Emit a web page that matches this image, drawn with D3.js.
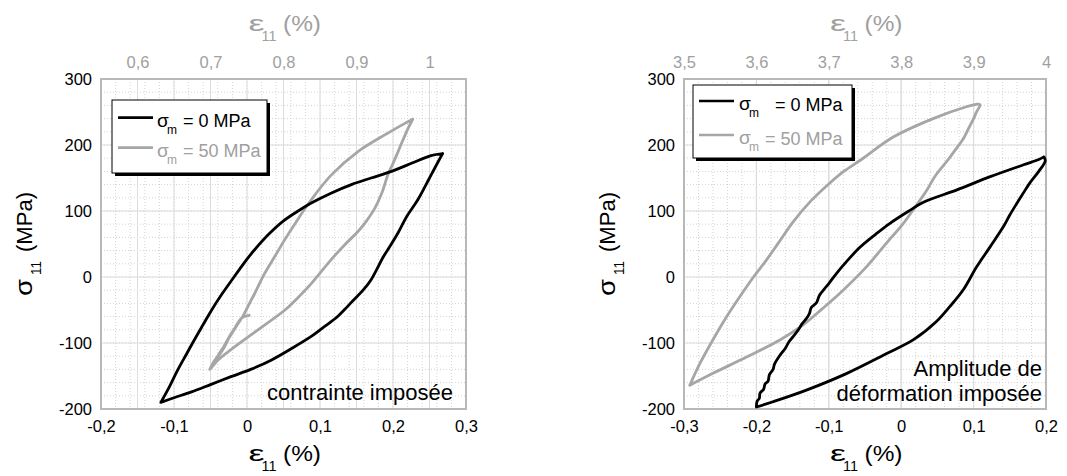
<!DOCTYPE html>
<html><head><meta charset="utf-8">
<script src="https://cdn.jsdelivr.net/npm/d3@7"></script>
<style>
body{margin:0;background:#fff;}
svg{display:block;font-family:"Liberation Sans",Arial,sans-serif;}
</style></head><body>
<svg id="chart" width="1067" height="476"></svg>
<script>
// ---------- data ----------
const yTicks = [-200, -100, 0, 100, 200, 300];
const yDomain = [-200, 300];
const leftXTicks = [-0.2, -0.1, 0, 0.1, 0.2, 0.3];
const leftXDomain = [-0.2, 0.3];
const leftTopTicks = [0.6, 0.7, 0.8, 0.9, 1.0];
const leftTopDomain = [0.55, 1.05];
const rightXTicks = [-0.3, -0.2, -0.1, 0, 0.1, 0.2];
const rightXDomain = [-0.3, 0.2];
const rightTopTicks = [3.5, 3.6, 3.7, 3.8, 3.9, 4.0];
const rightTopDomain = [3.5, 4.0];
const seriesLabels = ["= 0 MPa", "= 50 MPa"];
const leftNote = ["contrainte imposée"];
const rightNote = ["Amplitude de", "déformation imposée"];

// left panel: sigma_m = 0 MPa  [eps (%), sigma (MPa)]
const leftSig0 = [[-0.118,-190],[-0.108,-170],[-0.095,-141],[-0.083,-117],[-0.072,-95],[-0.06,-72],[-0.049,-51],[-0.035,-27],[-0.021,-5],[-0.01,12],[0.0,27],[0.011,42],[0.03,65],[0.05,85],[0.07,100],[0.088,112],[0.115,127],[0.143,140],[0.17,150],[0.198,160],[0.227,173],[0.252,184],[0.268,187],[0.262,175],[0.25,150],[0.234,117],[0.219,92],[0.207,67],[0.195,45],[0.187,31],[0.17,-4],[0.159,-20],[0.145,-36],[0.134,-49],[0.123,-61],[0.105,-76],[0.088,-90],[0.06,-109],[0.033,-126],[0.005,-140],[-0.022,-151],[-0.05,-163],[-0.076,-174],[-0.1,-183],[-0.118,-190]];
// left panel: sigma_m = 50 MPa
const leftSig50 = [[-0.051,-140],[-0.044,-126],[-0.038,-118],[-0.031,-106],[-0.025,-93],[-0.02,-84],[-0.012,-70],[-0.006,-60],[0.002,-43],[0.0105,-25],[0.024,5],[0.038,31],[0.052,57],[0.07,88],[0.088,117],[0.115,154],[0.152,190],[0.193,218],[0.215,232],[0.227,239],[0.221,226],[0.213,206],[0.207,190],[0.2,172],[0.193,155],[0.185,128],[0.175,104],[0.163,84],[0.152,69],[0.134,49],[0.115,26],[0.088,-10],[0.07,-31],[0.052,-50],[0.015,-80],[-0.022,-110],[-0.04,-126],[-0.051,-140],[-0.046,-130],[-0.038,-116],[-0.031,-104],[-0.024,-90],[-0.017,-78],[-0.011,-67],[-0.006,-61],[0.003,-58]];
// right panel: sigma_m = 0 MPa
const rightSig0 = [[-0.2,-197],[-0.199,-188],[-0.196,-184],[-0.195,-176],[-0.19,-170],[-0.188,-162],[-0.184,-158],[-0.182,-148],[-0.177,-140],[-0.175,-132],[-0.167,-118],[-0.16,-108],[-0.155,-98],[-0.149,-90],[-0.142,-80],[-0.137,-71],[-0.131,-63],[-0.127,-56],[-0.124,-46],[-0.117,-39],[-0.113,-28],[-0.106,-18],[-0.1,-10],[-0.089,6],[-0.075,24],[-0.057,45],[-0.035,65],[-0.016,81],[0.012,101],[0.03,113],[0.077,132],[0.123,152],[0.169,170],[0.19,178],[0.197,182],[0.199,176],[0.19,160],[0.178,143],[0.168,126],[0.16,112],[0.15,94],[0.141,76],[0.123,46],[0.104,15],[0.086,-19],[0.067,-45],[0.049,-67],[0.017,-95],[-0.02,-116],[-0.075,-146],[-0.13,-171],[-0.177,-189],[-0.2,-197]];
// right panel: sigma_m = 50 MPa
const rightSig50 = [[-0.292,-164],[-0.278,-131],[-0.26,-95],[-0.241,-60],[-0.223,-30],[-0.204,0],[-0.186,26],[-0.17,51],[-0.149,84],[-0.125,115],[-0.1,141],[-0.078,161],[-0.055,178],[-0.011,212],[0.044,240],[0.09,258],[0.105,262],[0.109,261],[0.104,250],[0.1,240],[0.093,225],[0.086,210],[0.075,193],[0.065,178],[0.047,153],[0.034,129],[0.018,104],[0.0,77],[-0.016,57],[-0.05,13],[-0.085,-25],[-0.11,-49],[-0.135,-72],[-0.167,-95],[-0.213,-121],[-0.26,-146],[-0.292,-164]];

// ---------- styling ----------
const BLACK = "#000000", GRAY = "#a6a6a6", GRAYTXT = "#a0a0a0";
const locale = d3.formatLocale({decimal: ",", thousands: " ", grouping: [3], currency: ["", ""], minus: "-"});
const fmt0 = locale.format("~f");
const fmt = v => fmt0(+v.toFixed(6));

const svg = d3.select("#chart");

function branches(data) {
  const a = d3.maxIndex(data, d => d[1]);
  const b = d3.minIndex(data, d => d[1]);
  const cuts = [0, ...[a, b].filter(i => i > 0 && i < data.length - 1).sort((p, q) => p - q), data.length - 1];
  const segs = [];
  for (let i = 0; i < cuts.length - 1; i++) segs.push(data.slice(cuts[i], cuts[i + 1] + 1));
  return segs;
}

function drawPanel(cfg) {
  const g = svg.append("g");
  const x = d3.scaleLinear().domain(cfg.xDomain).range([cfg.x0, cfg.x1]);
  const xt = d3.scaleLinear().domain(cfg.topDomain).range([cfg.x0, cfg.x1]);
  const y = d3.scaleLinear().domain(yDomain).range([cfg.y1, cfg.y0]);

  // minor grid (dotted)
  const minorX = d3.range(Math.round(cfg.xDomain[0] * 50), Math.round(cfg.xDomain[1] * 50) + 1).map(i => i / 50);
  const minorY = d3.range(yDomain[0], yDomain[1] + 1, 20);
  g.append("g").selectAll("line").data(minorX).join("line")
    .attr("x1", d => x(d)).attr("x2", d => x(d)).attr("y1", cfg.y0).attr("y2", cfg.y1)
    .attr("stroke", "#d4d4d4").attr("stroke-width", 1).attr("stroke-dasharray", "1,2");
  g.append("g").selectAll("line").data(minorY).join("line")
    .attr("y1", d => y(d)).attr("y2", d => y(d)).attr("x1", cfg.x0).attr("x2", cfg.x1)
    .attr("stroke", "#d4d4d4").attr("stroke-width", 1).attr("stroke-dasharray", "1,2");
  // major grid (solid)
  g.append("g").selectAll("line").data(cfg.xTicks).join("line")
    .attr("x1", d => x(d)).attr("x2", d => x(d)).attr("y1", cfg.y0).attr("y2", cfg.y1)
    .attr("stroke", "#dcdcdc").attr("stroke-width", 1);
  g.append("g").selectAll("line").data(cfg.topTicks).join("line")
    .attr("x1", d => xt(d)).attr("x2", d => xt(d)).attr("y1", cfg.y0).attr("y2", cfg.y1)
    .attr("stroke", "#dcdcdc").attr("stroke-width", 1);
  g.append("g").selectAll("line").data(yTicks).join("line")
    .attr("y1", d => y(d)).attr("y2", d => y(d)).attr("x1", cfg.x0).attr("x2", cfg.x1)
    .attr("stroke", "#dcdcdc").attr("stroke-width", 1);

  // plot border
  g.append("rect").attr("x", cfg.x0).attr("y", cfg.y0)
    .attr("width", cfg.x1 - cfg.x0).attr("height", cfg.y1 - cfg.y0)
    .attr("fill", "none").attr("stroke", "#b8b8b8").attr("stroke-width", 2);

  // series
  const line = d3.line().x(d => x(d[0])).y(d => y(d[1])).curve(d3.curveCatmullRom.alpha(0.5));
  [[cfg.s50, GRAY], [cfg.s0, BLACK]].forEach(([data, col]) => {
    const d = branches(data).map(s => line(s)).join("");
    g.append("path").attr("d", d).attr("fill", "none")
      .attr("stroke", col).attr("stroke-width", 2.8)
      .attr("stroke-linejoin", "round").attr("stroke-linecap", "round");
  });

  // axes
  const styleAxis = (sel, color, size) => {
    sel.select(".domain").remove();
    sel.selectAll("text").attr("fill", color).attr("font-size", size)
      .attr("font-family", '"Liberation Sans", Arial, sans-serif');
  };
  g.append("g").attr("transform", `translate(${cfg.x0},0)`)
    .call(d3.axisLeft(y).tickValues(yTicks).tickSize(0).tickPadding(9).tickFormat(fmt))
    .call(s => styleAxis(s, BLACK, 16.5));
  g.append("g").attr("transform", `translate(0,${cfg.y1})`)
    .call(d3.axisBottom(x).tickValues(cfg.xTicks).tickSize(0).tickPadding(11).tickFormat(fmt))
    .call(s => styleAxis(s, BLACK, 16.5));
  g.append("g").attr("transform", `translate(0,${cfg.y0})`)
    .call(d3.axisTop(xt).tickValues(cfg.topTicks).tickSize(0).tickPadding(11).tickFormat(fmt))
    .call(s => styleAxis(s, GRAYTXT, 16.5));

  // axis titles (epsilon)
  const cx = (cfg.x0 + cfg.x1) / 2;
  function epsTitle(baseY, color) {
    const t = g.append("g").attr("fill", color);
    t.append("text").attr("x", cx - 35).attr("y", baseY).attr("font-size", 22)
      .attr("textLength", 16).attr("lengthAdjust", "spacingAndGlyphs").text("ε");
    t.append("text").attr("x", cx - 22).attr("y", baseY + 10).attr("font-size", 15)
      .attr("textLength", 15).attr("lengthAdjust", "spacingAndGlyphs").text("11");
    t.append("text").attr("x", cx - 0.5).attr("y", baseY).attr("font-size", 22)
      .attr("textLength", 38).attr("lengthAdjust", "spacingAndGlyphs").text("(%)");
  }
  epsTitle(461, BLACK);
  epsTitle(31, GRAYTXT);

  // y title (sigma)
  const cy = (cfg.y0 + cfg.y1) / 2;
  const yt = g.append("g").attr("transform", `translate(${cfg.x0 - 69},${cy}) rotate(-90)`).attr("fill", BLACK);
  yt.append("text").attr("x", -52).attr("y", 0).attr("font-size", 24)
    .attr("textLength", 17).attr("lengthAdjust", "spacingAndGlyphs").text("σ");
  yt.append("text").attr("x", -31).attr("y", 9).attr("font-size", 15)
    .attr("textLength", 14).attr("lengthAdjust", "spacingAndGlyphs").text("11");
  yt.append("text").attr("x", -8).attr("y", 0).attr("font-size", 22)
    .attr("textLength", 60).attr("lengthAdjust", "spacingAndGlyphs").text("(MPa)");

  // legend
  const L = cfg.legend;
  g.append("rect").attr("x", L.x + 3).attr("y", L.y + 3).attr("width", L.w).attr("height", L.h).attr("fill", BLACK);
  g.append("rect").attr("x", L.x).attr("y", L.y).attr("width", L.w).attr("height", L.h)
    .attr("fill", "#fff").attr("stroke", BLACK).attr("stroke-width", 1);
  [[BLACK, 0], [GRAY, 1]].forEach(([col, i]) => {
    const ly = L.lineY[i];
    g.append("line").attr("x1", L.x + 6).attr("x2", L.x + 41).attr("y1", ly).attr("y2", ly)
      .attr("stroke", col).attr("stroke-width", 2.7);
    const tcol = i === 0 ? BLACK : GRAYTXT;
    g.append("text").attr("x", L.sx).attr("y", ly + 9).attr("font-size", 19).attr("fill", tcol).text("σ");
    g.append("text").attr("x", L.sx + 10).attr("y", ly + 16).attr("font-size", 12).attr("fill", tcol).text("m");
    g.append("text").attr("x", L.eqx[i]).attr("y", ly + 9.5).attr("font-size", 18).attr("fill", tcol).text(seriesLabels[i]);
  });

  // annotation
  cfg.note.forEach((s, i) => {
    g.append("text").attr("x", cfg.noteX).attr("y", cfg.noteY[i]).attr("text-anchor", "end")
      .attr("font-size", 22).attr("fill", BLACK).text(s);
  });
}

drawPanel({
  x0: 101, x1: 466, y0: 79, y1: 409,
  xDomain: leftXDomain, xTicks: leftXTicks, topDomain: leftTopDomain, topTicks: leftTopTicks,
  s0: leftSig0, s50: leftSig50,
  legend: {x: 112, y: 100, w: 155, h: 73, lineY: [117.7, 147.7], sx: 157, eqx: [183, 183]},
  note: leftNote, noteX: 453, noteY: [400]
});
drawPanel({
  x0: 684, x1: 1046, y0: 79, y1: 409,
  xDomain: rightXDomain, xTicks: rightXTicks, topDomain: rightTopDomain, topTicks: rightTopTicks,
  s0: rightSig0, s50: rightSig50,
  legend: {x: 693, y: 85, w: 159, h: 73, lineY: [101, 135], sx: 739, eqx: [775, 765]},
  note: rightNote, noteX: 1042, noteY: [376, 401]
});
</script>
</body></html>
